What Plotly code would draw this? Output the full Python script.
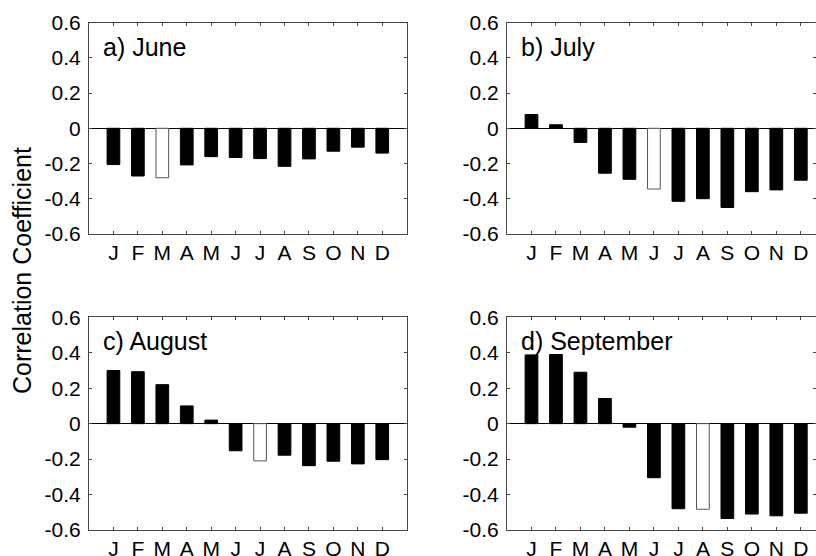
import plotly.graph_objects as go

months = ["J", "F", "M", "A", "M", "J", "J", "A", "S", "O", "N", "D"]
month_pos = list(range(1, 13))

june = [-0.206, -0.271, -0.281, -0.208, -0.161, -0.166, -0.172, -0.216, -0.174, -0.130, -0.107, -0.141]
july = [0.078, 0.020, -0.080, -0.255, -0.290, -0.345, -0.415, -0.400, -0.450, -0.360, -0.350, -0.295]
august = [0.300, 0.293, 0.220, 0.100, 0.020, -0.153, -0.210, -0.178, -0.237, -0.212, -0.227, -0.203]
september = [0.388, 0.390, 0.290, 0.142, -0.020, -0.305, -0.480, -0.483, -0.535, -0.510, -0.520, -0.505]

panel_labels = ["a) June", "b) July", "c) August", "d) September"]
open_index = [2, 5, 6, 7]
series = [june, july, august, september]

y_ticks = [-0.6, -0.4, -0.2, 0, 0.2, 0.4, 0.6]
y_ticktext = ["-0.6", "-0.4", "-0.2", "0", "0.2", "0.4", "0.6"]

W, H = 816, 556
# panel boxes in pixels: (left, right, top, bottom)
left_x = (89, 406.7)
right_x = (507, 825.3)
top_y = (22.7, 233.9)
bot_y = (317.3, 530.0)
boxes = [(left_x, top_y), (right_x, top_y), (left_x, bot_y), (right_x, bot_y)]

FONT = "Liberation Sans, Arial, Helvetica, sans-serif"
AX_COL = "#444444"
TICK_SIZE = 21
LABEL_SIZE = 25

fig = go.Figure()
layout = dict(
    width=W, height=H,
    margin=dict(l=0, r=0, t=0, b=0, autoexpand=False),
    paper_bgcolor="white", plot_bgcolor="white",
    showlegend=False,
    font=dict(family=FONT, size=TICK_SIZE, color="black"),
)
annotations = []

for i, (vals, lab, oi, box) in enumerate(zip(series, panel_labels, open_index, boxes)):
    (x0, x1), (y0, y1) = box
    xmax = 13.0
    dom_x1 = x1 / W
    if dom_x1 > 1:
        xmax = 13.0 * (W - x0) / (x1 - x0)
        dom_x1 = 1.0
    fills = ["white" if k == oi else "black" for k in range(12)]
    lines = ["#555555" if k == oi else "black" for k in range(12)]
    n = "" if i == 0 else str(i + 1)
    fig.add_trace(go.Bar(
        x=month_pos, y=vals, width=0.52,
        marker=dict(color=fills, line=dict(color=lines, width=1)),
        xaxis="x" + n, yaxis="y" + n, hoverinfo="skip",
    ))
    layout["xaxis" + n] = dict(
        domain=[x0 / W, dom_x1], range=[0, xmax], anchor="y" + n,
        tickmode="array", tickvals=month_pos, ticktext=months,
        ticks="inside", ticklen=3, tickcolor=AX_COL, tickwidth=1,
        showline=True, linecolor=AX_COL, linewidth=1, mirror="ticks",
        showgrid=False, zeroline=False, fixedrange=True, automargin=False,
        tickfont=dict(size=TICK_SIZE, family=FONT, color="black"),
        ticklabelstandoff=0,
    )
    layout["yaxis" + n] = dict(
        domain=[1 - y1 / H, 1 - y0 / H], range=[-0.6, 0.6], anchor="x" + n,
        tickmode="array", tickvals=y_ticks, ticktext=y_ticktext,
        ticks="inside", ticklen=3, tickcolor=AX_COL, tickwidth=1,
        showline=True, linecolor=AX_COL, linewidth=1, mirror="ticks",
        showgrid=False, zeroline=True, zerolinecolor="black", zerolinewidth=1,
        fixedrange=True, automargin=False,
        tickfont=dict(size=TICK_SIZE, family=FONT, color="black"),
        ticklabelstandoff=3,
    )
    annotations.append(dict(
        text=lab, xref="paper", yref="paper",
        x=(x0 + 11.5) / W, y=1 - (y0 + 24) / H,
        xanchor="left", yanchor="middle", showarrow=False,
        font=dict(size=LABEL_SIZE, family=FONT, color="black"),
    ))

annotations.append(dict(
    text="Correlation Coefficient", xref="paper", yref="paper",
    x=22 / W, y=1 - 271 / H, xanchor="center", yanchor="middle",
    textangle=-90, showarrow=False,
    font=dict(size=LABEL_SIZE, family=FONT, color="black"),
))
layout["annotations"] = annotations
fig.update_layout(**layout)
fig.write_html("out.html")
